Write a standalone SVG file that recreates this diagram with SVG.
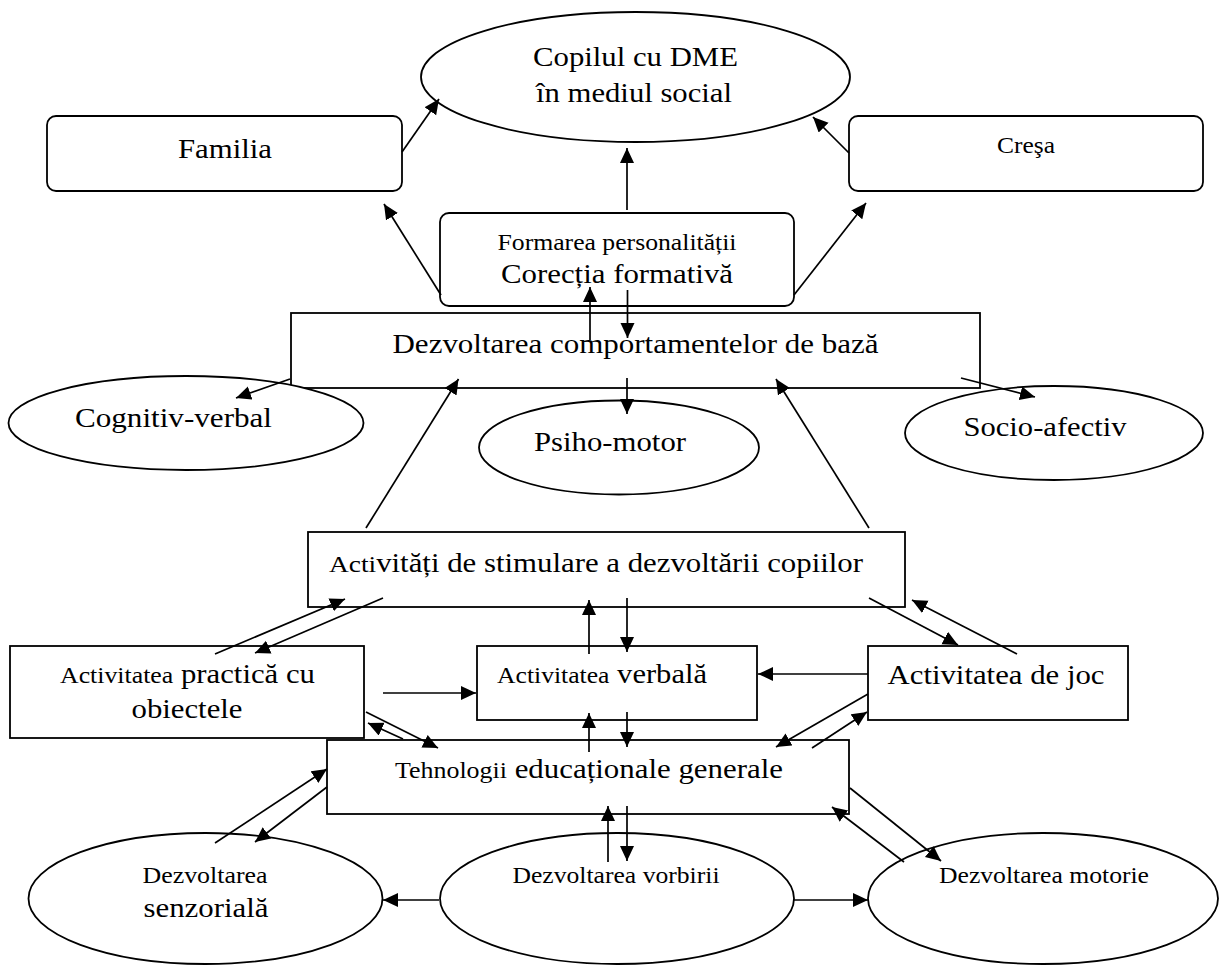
<svg xmlns="http://www.w3.org/2000/svg" width="1223" height="966" viewBox="0 0 1223 966">
<style>
.s{fill:#fff;stroke:#000;stroke-width:1.8}
.t{font-family:"Liberation Serif","Times New Roman",serif;fill:#000;text-anchor:middle}
.l{fill:none;stroke:#000;stroke-width:1.7;marker-end:url(#ah)}
</style>
<defs>
<marker id="ah" markerUnits="userSpaceOnUse" markerWidth="16" markerHeight="16" refX="15" refY="7" orient="auto">
<path d="M0,0 L15,7 L0,14 z" fill="#000"/>
</marker>
</defs>
<rect width="1223" height="966" fill="#fff"/>
<g id="copilul"><ellipse class="s" cx="635.5" cy="77" rx="214.5" ry="65"/>
<text class="t" x="635.5" y="66" font-size="28" textLength="205" lengthAdjust="spacingAndGlyphs">Copilul cu DME</text>
<text class="t" x="634" y="102" font-size="28" textLength="196" lengthAdjust="spacingAndGlyphs">în mediul social</text></g>
<g id="familia"><rect class="s" x="47" y="116" width="355" height="75" rx="9"/>
<text class="t" x="225" y="158" font-size="28" textLength="94" lengthAdjust="spacingAndGlyphs">Familia</text></g>
<g id="cresa"><rect class="s" x="849" y="116" width="354" height="75" rx="9"/>
<text class="t" x="1026" y="153" font-size="23" textLength="58" lengthAdjust="spacingAndGlyphs">Creşa</text></g>
<g id="formarea"><rect class="s" x="440" y="213" width="354" height="93" rx="9"/>
<text class="t" x="617" y="250" font-size="23.5" textLength="239" lengthAdjust="spacingAndGlyphs">Formarea personalității</text>
<text class="t" x="617" y="283" font-size="28" textLength="232" lengthAdjust="spacingAndGlyphs">Corecția formativă</text></g>
<g id="dezvoltarea-comp"><rect class="s" x="291" y="313" width="689" height="75"/>
<text class="t" x="635.5" y="353" font-size="28" textLength="486" lengthAdjust="spacingAndGlyphs">Dezvoltarea comportamentelor de bază</text></g>
<g id="cognitiv"><ellipse class="s" cx="186" cy="423" rx="177.5" ry="47"/>
<text class="t" x="173.5" y="427" font-size="28" textLength="197" lengthAdjust="spacingAndGlyphs">Cognitiv-verbal</text></g>
<g id="psiho"><ellipse class="s" cx="619" cy="447.5" rx="140" ry="47"/>
<text class="t" x="610" y="451" font-size="28" textLength="152" lengthAdjust="spacingAndGlyphs">Psiho-motor</text></g>
<g id="socio"><ellipse class="s" cx="1054" cy="433" rx="149" ry="47"/>
<text class="t" x="1045" y="436" font-size="28" textLength="163" lengthAdjust="spacingAndGlyphs">Socio-afectiv</text></g>
<g id="activitati"><rect class="s" x="308" y="532" width="597" height="75"/>
<text class="t" x="596" y="572" font-size="27" textLength="534" lengthAdjust="spacingAndGlyphs"><tspan font-size="24">Acti</tspan>vități de stimulare a dezvoltării copiilor</text></g>
<g id="practica"><rect class="s" x="10" y="646" width="354" height="92"/>
<text class="t" x="187.5" y="683" font-size="28" textLength="255" lengthAdjust="spacingAndGlyphs"><tspan font-size="23.5">Activitatea</tspan> practică cu</text>
<text class="t" x="187" y="718" font-size="28" textLength="111" lengthAdjust="spacingAndGlyphs">obiectele</text></g>
<g id="verbala"><rect class="s" x="477" y="646" width="280" height="74"/>
<text class="t" x="602" y="683" font-size="28" textLength="210" lengthAdjust="spacingAndGlyphs"><tspan font-size="23.5">Activitatea</tspan> verbală</text></g>
<g id="joc"><rect class="s" x="868" y="646" width="260" height="74"/>
<text class="t" x="996" y="684" font-size="28" textLength="217" lengthAdjust="spacingAndGlyphs">Activitatea de joc</text></g>
<g id="tehnologii"><rect class="s" x="327" y="740" width="522" height="74"/>
<text class="t" x="589" y="778" font-size="28" textLength="388" lengthAdjust="spacingAndGlyphs"><tspan font-size="23.5">Tehnologii</tspan> educaționale generale</text></g>
<g id="senzoriala"><ellipse class="s" cx="205.5" cy="898.5" rx="177" ry="65.5"/>
<text class="t" x="205" y="883" font-size="23.5" textLength="125" lengthAdjust="spacingAndGlyphs">Dezvoltarea</text>
<text class="t" x="206" y="917" font-size="28" textLength="125" lengthAdjust="spacingAndGlyphs">senzorială</text></g>
<g id="vorbirii"><ellipse class="s" cx="617" cy="898.5" rx="177" ry="65.5"/>
<text class="t" x="616" y="883" font-size="23.5" textLength="207" lengthAdjust="spacingAndGlyphs">Dezvoltarea vorbirii</text></g>
<g id="motorie"><ellipse class="s" cx="1043" cy="898.5" rx="175" ry="65.5"/>
<text class="t" x="1044" y="883" font-size="23.5" textLength="210" lengthAdjust="spacingAndGlyphs">Dezvoltarea motorie</text></g>
<g id="connectors">
<line class="l" x1="402" y1="152" x2="439" y2="99"/>
<line class="l" x1="849" y1="153" x2="813" y2="117"/>
<line class="l" x1="627" y1="210" x2="627" y2="148"/>
<line class="l" x1="441" y1="295" x2="384" y2="204"/>
<line class="l" x1="794" y1="295" x2="866" y2="203"/>
<line class="l" x1="590" y1="340" x2="590" y2="287"/>
<line class="l" x1="627.5" y1="290" x2="627.5" y2="338"/>
<line class="l" x1="290" y1="379" x2="236" y2="398"/>
<line class="l" x1="627" y1="378" x2="627" y2="414"/>
<line class="l" x1="961" y1="378" x2="1035" y2="397"/>
<line class="l" x1="366" y1="528" x2="458.5" y2="379"/>
<line class="l" x1="869" y1="528" x2="776" y2="379"/>
<line class="l" x1="215" y1="654" x2="345" y2="599"/>
<line class="l" x1="383" y1="598" x2="255" y2="653"/>
<line class="l" x1="627" y1="598" x2="627" y2="652"/>
<line class="l" x1="589" y1="654" x2="589" y2="600"/>
<line class="l" x1="869" y1="598" x2="958" y2="645"/>
<line class="l" x1="1017" y1="654" x2="912" y2="600"/>
<line class="l" x1="383" y1="693" x2="476" y2="693"/>
<line class="l" x1="868" y1="674" x2="758" y2="674"/>
<line class="l" x1="627" y1="712" x2="627" y2="747"/>
<line class="l" x1="589" y1="752" x2="589" y2="713"/>
<line class="l" x1="366" y1="712" x2="438" y2="748"/>
<line class="l" x1="403" y1="739" x2="368" y2="723"/>
<line class="l" x1="868" y1="694" x2="776" y2="747"/>
<line class="l" x1="812" y1="748" x2="867" y2="712"/>
<line class="l" x1="215" y1="843" x2="327" y2="769"/>
<line class="l" x1="327" y1="787" x2="255" y2="842"/>
<line class="l" x1="608" y1="862" x2="608" y2="806"/>
<line class="l" x1="627" y1="806" x2="627" y2="861"/>
<line class="l" x1="850" y1="788" x2="941" y2="861"/>
<line class="l" x1="904" y1="862" x2="832" y2="807"/>
<line class="l" x1="439" y1="900" x2="383" y2="900"/>
<line class="l" x1="794" y1="900" x2="868" y2="900"/>
</g>
</svg>
